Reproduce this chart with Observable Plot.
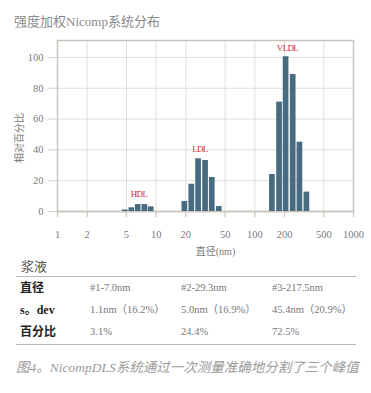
<!DOCTYPE html>
<html>
<head>
<meta charset="utf-8">
<script src="https://cdn.jsdelivr.net/npm/d3@7"></script>
<script src="https://cdn.jsdelivr.net/npm/@observablehq/plot@0.6"></script>
<style>
  html, body { margin: 0; padding: 0; background: #fff; }
  #wrap { position: relative; width: 371px; height: 393px; overflow: hidden;
          font-family: 'Liberation Serif', 'Noto Sans CJK SC', serif; }
  .abs { position: absolute; white-space: nowrap; }
  #title { left: 14px; top: 13px; font-size: 13px; line-height: 18px; color: #8a8a8a; }
  #chart { position: absolute; left: 0; top: 0; }
  #tname { left: 21px; top: 258px; font-size: 13px; line-height: 18px; color: #555; }
  .hline { position: absolute; left: 16px; width: 340px; height: 0; border-top: 1px solid #b8b8b8; }
  .rlab { font-size: 12px; line-height: 16px; font-weight: bold; color: #222; }
  .cell { font-size: 10.5px; line-height: 16px; color: #777; }
  #caption { left: 16px; top: 358px; font-size: 13.5px; line-height: 20px; color: #9a9a9a; font-style: italic; }
</style>
</head>
<body>
<div id="wrap"></div>
<script>
// ---- data ----
const xTicks = [1, 2, 5, 10, 20, 50, 100, 200, 500, 1000];
const yTicks = [0, 20, 40, 60, 80, 100];

const hdlDiam = [4.8, 5.6, 6.5, 7.6, 8.8];
const hdlVal  = [1.0, 2.4, 4.5, 4.5, 3.0];
const ldlDiam = [19.3, 22.7, 26.6, 31.3, 36.6, 43.1];
const ldlVal  = [6.5, 17.7, 34.2, 33.1, 22.1, 3.2];
const vldlDiam = [149, 176, 205, 242, 283, 333];
const vldlVal  = [24, 71, 100.5, 89, 45, 12.6];

const peakNames = ["HDL", "LDL", "VLDL"];
const peakX = [6.7, 27.8, 214];
const peakY = [11, 40.3, 105.8];

const titleText = "强度加权Nicomp系统分布";
const xLabel = "直径(nm)";
const yLabel = "相对百分比";

const tableName = "浆液";
const rowLabels = ["直径", "s。dev", "百分比"];
const rowDiam = ["#1-7.0nm", "#2-29.3nm", "#3-217.5nm"];
const rowSdev = ["1.1nm（16.2%）", "5.0nm（16.9%）", "45.4nm（20.9%）"];
const rowPct  = ["3.1%", "24.4%", "72.5%"];
const captionText = "图4。NicompDLS系统通过一次测量准确地分割了三个峰值";

// ---- build tables ----
const bars = [
  ...hdlDiam.map((d, i) => ({d, v: hdlVal[i]})),
  ...ldlDiam.map((d, i) => ({d, v: ldlVal[i]})),
  ...vldlDiam.map((d, i) => ({d, v: vldlVal[i]}))
];
const peaks = peakNames.map((n, i) => ({n, x: peakX[i], y: peakY[i]}));

const wrap = document.getElementById("wrap");

const title = document.createElement("div");
title.className = "abs"; title.id = "title"; title.textContent = titleText;
wrap.appendChild(title);

const svg = Plot.plot({
  width: 371,
  height: 260,
  marginLeft: 57,
  marginRight: 18,
  marginTop: 40,
  marginBottom: 49,
  style: {fontFamily: "'Liberation Serif', 'Noto Sans CJK SC', serif", fontSize: "10.5px", color: "#7a7a7a", background: "transparent"},
  x: {type: "log", domain: [1, 1000], axis: null},
  y: {domain: [0, 111]},
  marks: [
    Plot.gridX(xTicks, {stroke: "#e2dfdb", strokeOpacity: 1, strokeWidth: 1}),
    Plot.gridY(yTicks, {stroke: "#e2dfdb", strokeOpacity: 1, strokeWidth: 1}),
    Plot.frame({stroke: "#c9c4bc", strokeWidth: 1.5}),
    Plot.ruleX(xTicks, {x: d => d, y1: 0, y2: 0, insetBottom: -6, stroke: "#c9c4bc", strokeWidth: 1.2}),
    Plot.text(xTicks, {x: d => d, frameAnchor: "bottom", dy: 23, text: d => String(d), lineAnchor: "middle", fill: "#7a7a7a", fontSize: 10.5}),
    Plot.axisY(yTicks, {tickSize: 9, tickPadding: 5, stroke: "#d6d2cc", label: null, fill: "#7a7a7a"}),
    Plot.ruleY([0], {stroke: "#c9c4bc", strokeWidth: 1.5}),
    Plot.ruleX(bars, {x: "d", y1: 0, y2: "v", stroke: "#476b80", strokeWidth: 5.7}),
    Plot.text(peaks, {x: "x", y: "y", text: "n", fill: "#d02a3a", fontSize: 9}),
    Plot.text([yLabel], {frameAnchor: "left", rotate: -90, dx: -38, dy: 12, textAnchor: "middle", lineAnchor: "middle", fontSize: 10, fill: "#777"}),
    Plot.text([xLabel], {frameAnchor: "bottom", dx: 10, dy: 40, textAnchor: "middle", lineAnchor: "middle", fontSize: 10, fill: "#777"})
  ]
});
d3.select(svg).selectAll("text").filter(function() { return peakNames.includes(this.textContent); })
  .attr("letter-spacing", "-0.7");
const chartDiv = document.createElement("div");
chartDiv.id = "chart";
chartDiv.appendChild(svg);
wrap.appendChild(chartDiv);

function addDiv(cls, id, text, left, top) {
  const el = document.createElement("div");
  el.className = "abs" + (cls ? " " + cls : "");
  if (id) el.id = id;
  el.textContent = text;
  if (left != null) el.style.left = left + "px";
  if (top != null) el.style.top = top + "px";
  wrap.appendChild(el);
  return el;
}

addDiv("", "tname", tableName);
const l1 = document.createElement("div"); l1.className = "hline"; l1.style.top = "276px"; wrap.appendChild(l1);
const l2 = document.createElement("div"); l2.className = "hline"; l2.style.top = "344px"; wrap.appendChild(l2);

const rowCenters = [287.7, 310, 332.3];
const colX = [90, 181, 272];
const rows = [rowDiam, rowSdev, rowPct];
rowLabels.forEach((lab, r) => {
  addDiv("rlab", null, lab, 20, rowCenters[r] - 8);
  rows[r].forEach((val, c) => addDiv("cell", null, val, colX[c], rowCenters[r] - 8));
});

addDiv("", "caption", captionText);
</script>
</body>
</html>
